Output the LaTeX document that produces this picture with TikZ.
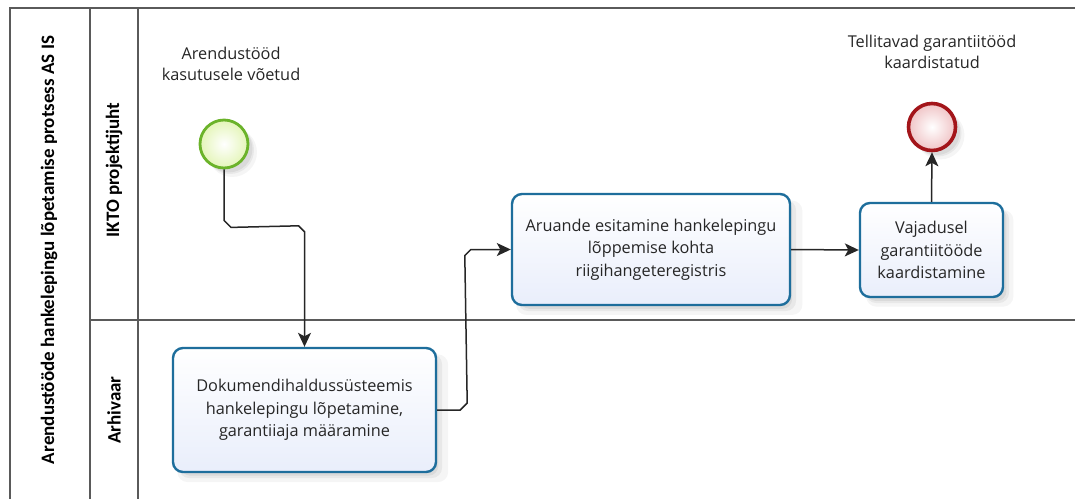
\documentclass[tikz,border=0pt]{standalone}
\usepackage{fontspec}
\setmainfont{Open Sans}
\newfontfamily\lanefont{Carlito}
\usetikzlibrary{arrows.meta,shadows,calc}

\definecolor{poolline}{HTML}{5A5A5A}
\definecolor{taskblue}{HTML}{1E6E9C}
\definecolor{taskfill}{HTML}{E9EEFB}
\definecolor{startgreen}{HTML}{6BB32A}
\definecolor{startfill}{HTML}{E4F5B8}
\definecolor{endred}{HTML}{A3151A}
\definecolor{endfill}{HTML}{F0C4C6}
\definecolor{inkcol}{HTML}{262626}
\definecolor{ghostcol}{HTML}{EDEDED}

\pgfdeclarelayer{bg}
\pgfsetlayers{bg,main}

\tikzset{
  softshadow/.style={
    general shadow={fill=black, opacity=0.04, shadow xshift=8pt, shadow yshift=-8pt, shadow scale=1.03},
    general shadow={fill=black, opacity=0.05, shadow xshift=6pt, shadow yshift=-6pt},
    general shadow={fill=black, opacity=0.06, shadow xshift=5pt, shadow yshift=-5pt, shadow scale=0.98}},
  task/.style={draw=taskblue, line width=2.4pt, rounded corners=10pt,
    top color=white, bottom color=taskfill, align=center, text=inkcol,
    font=\fontsize{16.3}{22.5}\selectfont, softshadow, inner sep=0pt},
  startev/.style={circle, draw=startgreen, line width=2.8pt, minimum size=48pt,
    inner sep=0pt, inner color=white, outer color=startfill, softshadow},
  endev/.style={circle, draw=endred, line width=3.6pt, minimum size=47pt,
    inner sep=0pt, inner color=white, outer color=endfill, softshadow},
  evlabel/.style={align=center, text=inkcol, font=\fontsize{16.3}{21}\selectfont},
  flow/.style={draw=inkcol, line width=1.5pt, -{Stealth[length=14pt,width=13pt,inset=3.5pt]}},
  ghost/.style={draw=ghostcol, line width=1.5pt, rounded corners=4pt,
    transform canvas={shift={(16,16)}}},
  pool/.style={draw=poolline, line width=1.2pt},
  lanelabel/.style={rotate=90, font=\lanefont\bfseries\fontsize{19}{22}\selectfont, text=black},
}

\begin{document}
\begin{tikzpicture}[x=1pt,y=-1pt]
  \useasboundingbox[fill=white] (0,0) rectangle (1075,499);

  % pool and lane frame
  \draw[pool] (1075,8) -- (10,8) -- (10,499);
  \draw[pool] (90,8) -- (90,499);
  \draw[pool] (138,8) -- (138,499);
  \draw[pool] (90,320) -- (1075,320);

  \node[lanelabel] (poolname) at (49,250)
    {Arendustööde hankelepingu lõpetamise protsess AS IS};
  \node[lanelabel] (lane1) at (114,170) {IKTO projektijuht};
  \node[lanelabel] (lane2) at (114,410) {Arhivaar};

  % events
  \node[startev] (start) at (224,144) {};
  \node[evlabel] (startlbl) at (231,64) {Arendustööd\\kasutusele võetud};
  \node[endev] (end) at (932,127) {};
  \node[evlabel] (endlbl) at (932,52) {Tellitavad garantiitööd\\kaardistatud};

  % tasks
  \node[task, minimum width=263pt, minimum height=124pt] (t1) at (304.5,410)
    {Dokumendihaldussüsteemis\\hankelepingu lõpetamine,\\garantiiaja määramine};
  \node[task, minimum width=278pt, minimum height=111pt] (t2) at (651,249.5)
    {Aruande esitamine hankelepingu\\lõppemise kohta\\riigihangeteregistris};
  \node[task, minimum width=143pt, minimum height=94pt] (t3) at (931.5,250)
    {Vajadusel\\garantiitööde\\kaardistamine};

  % faint connector shadows
  \begin{pgfonlayer}{bg}
    \draw[ghost] (start.south) -- ($(start.south)+(0,58)$) -| (t1.north);
    \draw[ghost] (t1.east) -- ($(t1.east)+(30,0)$) |- (t2.west);
    \draw[ghost] (t2.east) -- (t3.west);
    \draw[ghost, -{Stealth[length=10pt,width=9pt]}] (t3.north) -- (end.south);
  \end{pgfonlayer}

  % sequence flows
  \draw[flow] (start.south) -- ($(start.south)+(0,51)$) -- ($(start.south)+(7,58)$)
    -- ($(t1.north)+(-6,-121)$) -- ($(t1.north)+(0,-115)$) -- (t1.north);
  \draw[flow] (t1.east) -- ($(t1.east)+(23,0)$) -- ($(t1.east)+(30,-7)$)
    -- ($(t2.west)+(-46,6)$) -- ($(t2.west)+(-40,0)$) -- (t2.west);
  \draw[flow] (t2.east) -- (t3.west);
  \draw[flow] (t3.north) -- (end.south);
\end{tikzpicture}
\end{document}
